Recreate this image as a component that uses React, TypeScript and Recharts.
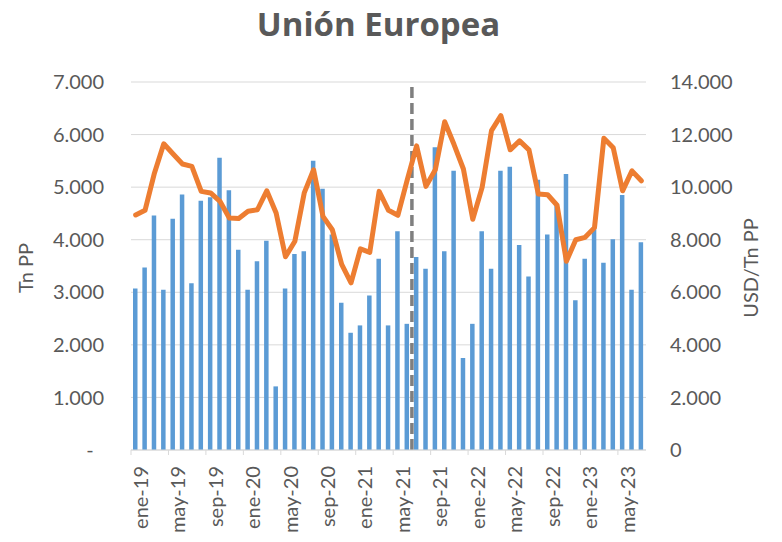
import React from 'react';
import {
  ComposedChart,
  Bar,
  Line,
  XAxis,
  YAxis,
  CartesianGrid,
  ReferenceLine,
} from 'recharts';

const months = [
  'ene-19', 'feb-19', 'mar-19', 'abr-19', 'may-19', 'jun-19', 'jul-19', 'ago-19', 'sep-19', 'oct-19', 'nov-19', 'dic-19',
  'ene-20', 'feb-20', 'mar-20', 'abr-20', 'may-20', 'jun-20', 'jul-20', 'ago-20', 'sep-20', 'oct-20', 'nov-20', 'dic-20',
  'ene-21', 'feb-21', 'mar-21', 'abr-21', 'may-21', 'jun-21', 'jul-21', 'ago-21', 'sep-21', 'oct-21', 'nov-21', 'dic-21',
  'ene-22', 'feb-22', 'mar-22', 'abr-22', 'may-22', 'jun-22', 'jul-22', 'ago-22', 'sep-22', 'oct-22', 'nov-22', 'dic-22',
  'ene-23', 'feb-23', 'mar-23', 'abr-23', 'may-23', 'jun-23', 'jul-23',
];

// Tn PP (left axis)
const volumeTn = [
  3070, 3470, 4460, 3050, 4400, 4860, 3170, 4740, 4810, 5560, 4940, 3810,
  3050, 3590, 3980, 1210, 3070, 3730, 3780, 5500, 4970, 4100, 2800, 2230,
  2370, 2940, 3640, 2370, 4160, 2400, 3670, 3450, 5760, 3780, 5310, 1750,
  2400, 4160, 3450, 5310, 5390, 3900, 3300, 5140, 4100, 4650, 5250, 2850,
  3640, 4200, 3560, 4010, 4850, 3050, 3950,
];

// USD/Tn PP (right axis)
const priceUsd = [
  8940, 9120, 10530, 11650, 11260, 10880, 10790, 9840, 9780, 9460, 8830, 8810,
  9080, 9140, 9860, 9020, 7350, 7940, 9780, 10660, 8890, 8380, 7060, 6360,
  7650, 7520, 9840, 9120, 8930, 10280, 11570, 10030, 10660, 12490, 11620, 10690,
  8780, 9990, 12150, 12720, 11420, 11760, 11420, 9740, 9710, 9310, 7180, 8000,
  8090, 8460, 11860, 11500, 9860, 10620, 10240,
];

const volumeTicks = [0, 1000, 2000, 3000, 4000, 5000, 6000, 7000];
const priceTicks = [0, 2000, 4000, 6000, 8000, 10000, 12000, 14000];
const splitMonth = 'jun-21';

const data = months.map((month, i) => ({
  month,
  volume: volumeTn[i],
  price: priceUsd[i],
}));

const W = 782;
const H = 542;
const PLOT_LEFT = 131;
const PLOT_RIGHT = 646;
const PLOT_TOP = 82;
const PLOT_BOTTOM = 450;
const HALF_BAND = (PLOT_RIGHT - PLOT_LEFT) / months.length / 2;

const FONT = 'Lato, "Open Sans", sans-serif';
const TEXT = '#595959';
const GRID = '#D9D9D9';

const thousands = (v: number) =>
  String(v).replace(/\B(?=(\d{3})+(?!\d))/g, '.');

const MonthTick = (props: any) => {
  const { x, y, payload } = props;
  const tx = x + 5;
  const ty = y + 16;
  return (
    <g>
      <line
        x1={x - HALF_BAND}
        x2={x - HALF_BAND}
        y1={y}
        y2={y + 5}
        stroke={GRID}
      />
      <text
        x={tx}
        y={ty}
        transform={`rotate(-90, ${tx}, ${ty})`}
        textAnchor="end"
        dy="0.35em"
        fill={TEXT}
        fontSize={20}
        fontFamily={FONT}
      >
        {payload.value}
      </text>
    </g>
  );
};

export default function App() {
  return (
    <div
      style={{
        position: 'absolute',
        left: 0,
        top: 0,
        width: W,
        height: H,
        background: '#fff',
        fontFamily: FONT,
      }}
    >
      <ComposedChart
        width={W}
        height={H}
        data={data}
        margin={{ top: PLOT_TOP, right: 0, bottom: 0, left: 0 }}
      >
        <CartesianGrid vertical={false} stroke={GRID} yAxisId="left" />
        <XAxis
          dataKey="month"
          interval={3}
          height={H - PLOT_BOTTOM}
          tickSize={0}
          tickMargin={0}
          tickLine={false}
          axisLine={{ stroke: GRID }}
          tick={<MonthTick />}
        />
        <YAxis
          yAxisId="left"
          width={PLOT_LEFT}
          domain={[0, 7000]}
          ticks={volumeTicks}
          tickSize={0}
          tickMargin={27}
          axisLine={false}
          tickLine={false}
          tickFormatter={(v: number) => (v === 0 ? '-\u00A0\u00A0' : thousands(v))}
          tick={{ fill: TEXT, fontSize: 20, fontFamily: FONT }}
        />
        <YAxis
          yAxisId="right"
          orientation="right"
          width={W - PLOT_RIGHT}
          domain={[0, 14000]}
          ticks={priceTicks}
          tickSize={0}
          tickMargin={24}
          axisLine={false}
          tickLine={false}
          tickFormatter={(v: number) => thousands(v)}
          tick={{ fill: TEXT, fontSize: 20, fontFamily: FONT }}
        />
        <Bar
          yAxisId="left"
          dataKey="volume"
          fill="#5B9BD5"
          barSize={4.5}
          isAnimationActive={false}
        />
        <ReferenceLine
          yAxisId="left"
          x={splitMonth}
          position="end"
          stroke="#7F7F7F"
          strokeWidth={3.5}
          strokeDasharray="11 5"
        />
        <Line
          yAxisId="right"
          dataKey="price"
          type="linear"
          stroke="#ED7D31"
          strokeWidth={5}
          strokeLinejoin="round"
          strokeLinecap="round"
          dot={false}
          activeDot={false}
          isAnimationActive={false}
        />
      </ComposedChart>
      <svg
        width={W}
        height={H}
        style={{ position: 'absolute', left: 0, top: 0, pointerEvents: 'none' }}
      >
        <text
          x={378.5}
          y={36}
          textAnchor="middle"
          fill={TEXT}
          fontSize={33}
          fontWeight="bold"
          fontFamily='"Open Sans", Lato, sans-serif'
        >
          Unión Europea
        </text>
        <text
          x={26}
          y={268}
          transform="rotate(-90, 26, 268)"
          textAnchor="middle"
          dy="0.35em"
          fill={TEXT}
          fontSize={20}
          fontFamily={FONT}
        >
          Tn PP
        </text>
        <text
          x={751}
          y={268}
          transform="rotate(-90, 751, 268)"
          textAnchor="middle"
          dy="0.35em"
          fill={TEXT}
          fontSize={20}
          fontFamily={FONT}
        >
          USD/Tn PP
        </text>
      </svg>
    </div>
  );
}
